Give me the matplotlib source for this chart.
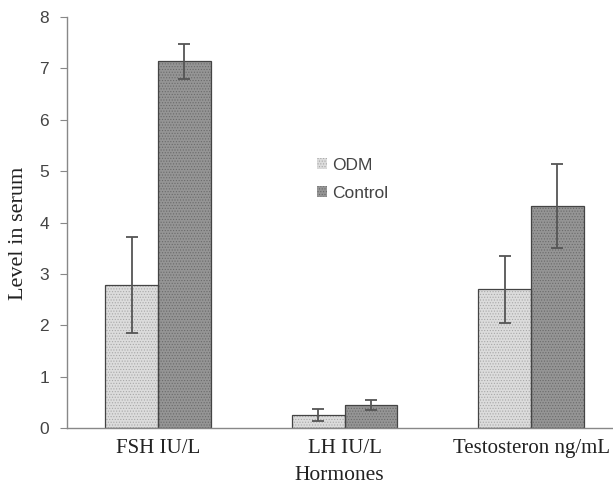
import matplotlib
matplotlib.use("Agg")
import matplotlib.pyplot as plt
import numpy as np

categories = ["FSH IU/L", "LH IU/L", "Testosteron ng/mL"]
odm = [2.78, 0.25, 2.70]
odm_err = [0.93, 0.12, 0.65]
control = [7.14, 0.45, 4.32]
control_err = [0.34, 0.10, 0.82]
yticks = [0, 1, 2, 3, 4, 5, 6, 7, 8]

fig = plt.figure(figsize=(6.13, 4.86), dpi=100)
ax = fig.add_axes([0.1093, 0.1193, 0.889, 0.8457])

x = np.arange(len(categories))
w = 0.284
plt.rcParams['hatch.linewidth'] = 0.5

b1 = ax.bar(x - w/2, odm, w, color="#dcdcdc", edgecolor="#a8a8a8", hatch="......", linewidth=0, label="ODM")
b2 = ax.bar(x + w/2, control, w, color="#959595", edgecolor="#6a6a6a", hatch="......", linewidth=0, label="Control")
ax.bar(x - w/2, odm, w, fill=False, edgecolor="#444444", linewidth=0.9)
ax.bar(x + w/2, control, w, fill=False, edgecolor="#444444", linewidth=0.9)
ax.errorbar(x - w/2, odm, yerr=odm_err, fmt="none", ecolor="#555555", elinewidth=1.3, capsize=4.5, capthick=1.3)
ax.errorbar(x + w/2, control, yerr=control_err, fmt="none", ecolor="#555555", elinewidth=1.3, capsize=4.5, capthick=1.3)

ax.set_xlim(-0.488, 2.434)
ax.set_ylim(0, 8)
ax.set_yticks(yticks)
ax.set_yticklabels([str(t) for t in yticks], family="Liberation Sans", fontsize=12.5, color="#444444")
ax.set_xticks(x)
ax.set_xticklabels(categories, family="Liberation Serif", fontsize=15, color="#222222")
ax.tick_params(axis="x", length=0, pad=8)
ax.tick_params(axis="y", length=5, color="#888888", pad=8)
for s in ["top", "right"]:
    ax.spines[s].set_visible(False)
ax.spines["left"].set_color("#888888")
ax.spines["bottom"].set_color("#888888")
ax.spines["left"].set_linewidth(1.0)
ax.spines["bottom"].set_linewidth(1.0)

ax.set_xlabel("Hormones", family="Liberation Serif", fontsize=15.5, color="#222222", labelpad=6)
ax.set_ylabel("Level in serum", family="Liberation Serif", fontsize=16, color="#222222")
ax.yaxis.set_label_coords(-0.072, 0.474)

leg = ax.legend(handles=[b1, b2], loc="upper left", bbox_to_anchor=(0.43, 0.695), frameon=False,
                prop={"family": "Liberation Sans", "size": 12.5}, handlelength=0.6, handleheight=0.6,
                handletextpad=0.3, labelspacing=0.75)
for t in leg.get_texts():
    t.set_color("#444444")

fig.savefig("out.png", dpi=100)
